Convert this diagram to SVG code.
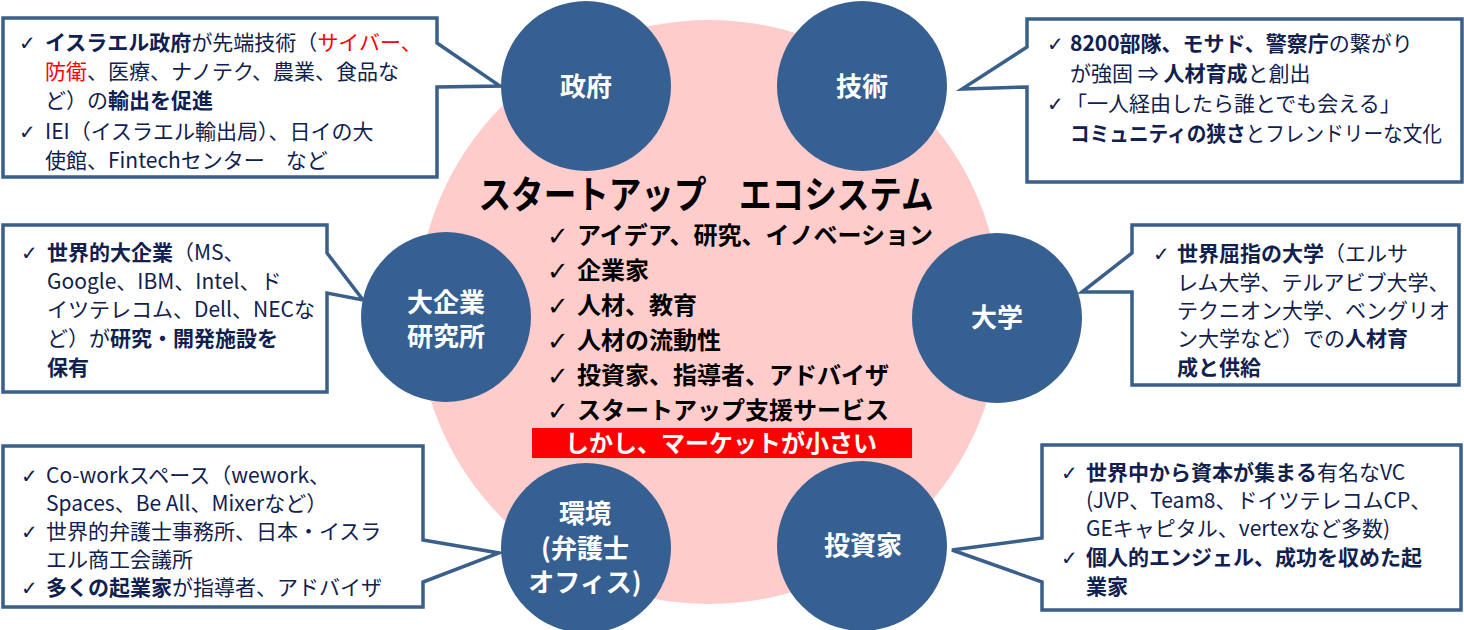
<svg xmlns="http://www.w3.org/2000/svg" width="1464" height="630" viewBox="0 0 1464 630">
<style>
.t{font-family:"Noto Sans CJK JP","Noto Sans",sans-serif;font-size:21px;fill:#10214F}
.b{font-weight:bold}
.r{fill:#FF0000}
.ck{font-family:"DejaVu Sans",sans-serif;font-size:20px;fill:#10214F}
.ckc{font-family:"DejaVu Sans",sans-serif;font-size:26px;fill:#000}
.box{fill:#FFFFFF;stroke:#3A5F8B;stroke-width:3.5;stroke-linejoin:miter}
.node{fill:#376092}
.nl{font-family:"Noto Sans CJK JP","Noto Sans",sans-serif;font-size:26px;font-weight:bold;fill:#FFFFFF;text-anchor:middle}
.ct{font-family:"Noto Sans CJK JP","Noto Sans",sans-serif;font-size:24px;font-weight:bold;fill:#000}
</style>
<rect x="0" y="0" width="1464" height="630" fill="#FFFFFF"/>
<g id="ecosystem">
<circle cx="709" cy="312" r="292" fill="#FFCCCC"/>
<text x="706" y="208" font-family="'Noto Sans CJK JP',sans-serif" font-size="38" font-weight="bold" fill="#000" text-anchor="middle" textLength="455" lengthAdjust="spacingAndGlyphs">スタートアップ　エコシステム</text>
<text class="ckc" x="547" y="245">✓</text><text class="ct" x="577" y="244">アイデア、研究、イノベーション</text>
<text class="ckc" x="547" y="280">✓</text><text class="ct" x="577" y="279">企業家</text>
<text class="ckc" x="547" y="315">✓</text><text class="ct" x="577" y="314">人材、教育</text>
<text class="ckc" x="547" y="350">✓</text><text class="ct" x="577" y="349">人材の流動性</text>
<text class="ckc" x="547" y="385">✓</text><text class="ct" x="577" y="384">投資家、指導者、アドバイザ</text>
<text class="ckc" x="547" y="420">✓</text><text class="ct" x="577" y="419">スタートアップ支援サービス</text>
<rect x="532" y="428" width="380" height="30" fill="#FF0000"/>
<text class="ct" x="721" y="452" style="fill:#FFFFFF" text-anchor="middle">しかし、マーケットが小さい</text>
</g>
<g id="node-government"><circle class="node" cx="586" cy="86" r="85"/><text class="nl" x="586" y="96">政府</text></g>
<g id="node-technology"><circle class="node" cx="862" cy="86" r="85"/><text class="nl" x="862" y="96">技術</text></g>
<g id="node-corporate"><circle class="node" cx="446" cy="317" r="85"/><text class="nl" x="446" y="312">大企業</text><text class="nl" x="446" y="346">研究所</text></g>
<g id="node-university"><circle class="node" cx="997" cy="318" r="85"/><text class="nl" x="997" y="327">大学</text></g>
<g id="node-environment"><circle class="node" cx="586" cy="548" r="85"/><text class="nl" x="585" y="523">環境</text><text class="nl" x="585" y="558">(弁護士</text><text class="nl" x="585" y="592">オフィス)</text></g>
<g id="node-investor"><circle class="node" cx="862" cy="546" r="85"/><text class="nl" x="863" y="555">投資家</text></g>

<g id="callout-government">
<path class="box" d="M3,18 H437 V43 L500,86 L437,87 V177 H3 Z"/>
<text class="ck" x="19" y="50">✓</text>
<text class="t" x="45" y="50"><tspan class="b">イスラエル政府</tspan>が先端技術（<tspan class="r">サイバー、</tspan></text>
<text class="t" x="45" y="79"><tspan class="r">防衛</tspan>、医療、ナノテク、農業、食品な</text>
<text class="t" x="45" y="108">ど）の<tspan class="b">輸出を促進</tspan></text>
<text class="ck" x="19" y="139">✓</text>
<text class="t" x="45" y="139">IEI（イスラエル輸出局）、日イの大</text>
<text class="t" x="45" y="168">使館、Fintechセンター　など</text>
</g>
<g id="callout-technology">
<path class="box" d="M1027,19 H1462 V182 H1027 V87 L962,89 L1027,47 Z"/>
<text class="ck" x="1047" y="51">✓</text>
<text class="t" x="1070" y="51"><tspan class="b">8200部隊、モサド、警察庁</tspan>の繋がり</text>
<text class="t" x="1070" y="81">が強固 ⇒ <tspan class="b">人材育成</tspan>と創出</text>
<text class="ck" x="1047" y="111">✓</text>
<text class="t" x="1066" y="111">「一人経由したら誰とでも会える」</text>
<text class="t" x="1070" y="141" textLength="372" lengthAdjust="spacingAndGlyphs"><tspan class="b">コミュニティの狭さ</tspan>とフレンドリーな文化</text>
</g>
<g id="callout-corporate">
<path class="box" d="M3,225 H327 V253 L363,300 L327,293 V392 H3 Z"/>
<text class="ck" x="21" y="260">✓</text>
<text class="t" x="47" y="260"><tspan class="b">世界的大企業</tspan>（MS、</text>
<text class="t" x="47" y="289">Google、IBM、Intel、ド</text>
<text class="t" x="47" y="317">イツテレコム、Dell、NECな</text>
<text class="t" x="47" y="346">ど）が<tspan class="b">研究・開発施設を</tspan></text>
<text class="t" x="47" y="375"><tspan class="b">保有</tspan></text>
</g>
<g id="callout-university">
<path class="box" d="M1132,225 H1459 V385 H1132 V292 L1082,292 L1132,253 Z"/>
<text class="ck" x="1153" y="261">✓</text>
<text class="t" x="1177" y="261"><tspan class="b">世界屈指の大学</tspan>（エルサ</text>
<text class="t" x="1177" y="290">レム大学、テルアビブ大学、</text>
<text class="t" x="1177" y="318">テクニオン大学、ベングリオ</text>
<text class="t" x="1177" y="346">ン大学など）での<tspan class="b">人材育</tspan></text>
<text class="t" x="1177" y="375"><tspan class="b">成と供給</tspan></text>
</g>
<g id="callout-environment">
<path class="box" d="M3,446 H423 V540 L499,553 L423,582 V607 H3 Z"/>
<text class="ck" x="21" y="483">✓</text>
<text class="t" x="46" y="483">Co-workスペース（wework、</text>
<text class="t" x="46" y="511">Spaces、Be All、Mixerなど）</text>
<text class="ck" x="21" y="539">✓</text>
<text class="t" x="46" y="539">世界的弁護士事務所、日本・イスラ</text>
<text class="t" x="46" y="567">エル商工会議所</text>
<text class="ck" x="21" y="595">✓</text>
<text class="t" x="46" y="595"><tspan class="b">多くの起業家</tspan>が指導者、アドバイザ</text>
</g>
<g id="callout-investor">
<path class="box" d="M1042,445 H1461 V610 H1042 V582 L952,550 L1042,538 Z"/>
<text class="ck" x="1061" y="480">✓</text>
<text class="t" x="1086" y="480"><tspan class="b">世界中から資本が集まる</tspan>有名なVC</text>
<text class="t" x="1086" y="508">(JVP、Team8、ドイツテレコムCP、</text>
<text class="t" x="1086" y="536">GEキャピタル、vertexなど多数)</text>
<text class="ck" x="1061" y="565">✓</text>
<text class="t" x="1086" y="565"><tspan class="b">個人的エンジェル、成功を収めた起</tspan></text>
<text class="t" x="1086" y="594"><tspan class="b">業家</tspan></text>
</g>
</svg>
